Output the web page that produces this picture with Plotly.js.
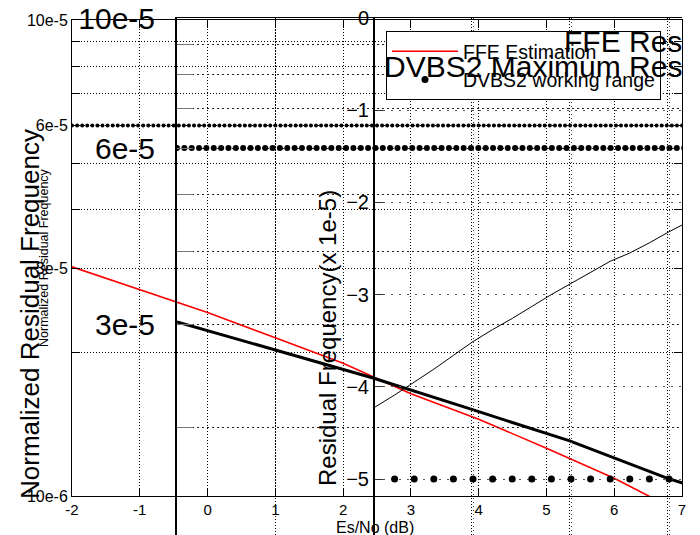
<!DOCTYPE html>
<html><head><meta charset="utf-8">
<script src="https://cdn.plot.ly/plotly-3.0.1.min.js"></script>
<style>html,body{margin:0;padding:0;background:#fff}#chart{width:700px;height:535px}</style>
</head><body><div id="chart"></div>
<script>
// FFE estimation of the normalized residual frequency vs Es/No (dB)
const ffeEsNo = [-2, -1, 0, 1, 2, 3, 4, 5, 6, 7];
const ffeResidual = [3.03e-5, 2.71e-5, 2.43e-5, 2.15e-5, 1.90e-5, 1.64e-5, 1.45e-5, 1.26e-5, 1.09e-5, 0.92e-5];

// DVBS2 maximum normalized residual frequency (constant level over the Es/No span)
const dvbs2MaxLevel = 6e-5;
const dvbs2MaxSpan = [-2, 7];
const dvbs2MaxPoints = 121;

// Residual frequency (x 1e-5) on the right-hand axes
const resEsNo = [0, 0.2, 0.4, 0.6, 0.8, 1.0, 1.2, 1.4, 1.6, 1.8, 2.0, 2.2, 2.4, 2.6, 2.8, 3.0, 3.2];
const resValue = [-4.22, -4.09, -3.95, -3.81, -3.66, -3.51, -3.38, -3.26, -3.13, -3.00, -2.88, -2.76, -2.64, -2.55, -2.44, -2.32, -2.21];

// DVBS2 working range markers
const workEsNo = [0.2, 0.4, 0.6, 0.8, 1.0, 1.2, 1.4, 1.6, 1.8, 2.0, 2.2, 2.4, 2.6, 2.8, 3.0];
const workLevel = -5;

// Tick labels
const esNoTicks = [-2, -1, 0, 1, 2, 3, 4, 5, 6, 7];
const esNoTickText = ['-2', '-1', '0', '1', '2', '3', '4', '5', '6', '7'];
const logTicks = [1e-5, 2e-5, 3e-5, 4e-5, 5e-5, 6e-5, 7e-5, 8e-5, 9e-5, 1e-4];
const smallLogText = ['10e-6', '', '3e-5', '', '', '6e-5', '', '', '', '10e-5'];
const bigLogText = ['', '', '3e-5', '', '', '6e-5', '', '', '', '10e-5'];
const resTicks = [0, -1, -2, -3, -4, -5];

const maxX = Array.from({length: dvbs2MaxPoints}, (_, i) =>
  dvbs2MaxSpan[0] + i * (dvbs2MaxSpan[1] - dvbs2MaxSpan[0]) / (dvbs2MaxPoints - 1));
const maxY = maxX.map(() => dvbs2MaxLevel);
const workY = workEsNo.map(() => workLevel);

const FONT = 'Liberation Sans, Arial, Helvetica, sans-serif';
const P = px => px / 700;
const Q = py => 1 - py / 535;

const traces = [
  {x: ffeEsNo, y: ffeResidual, xaxis: 'x', yaxis: 'y', mode: 'lines', name: 'FFE Estimation',
   line: {color: '#ff0000', width: 1.6}, legendrank: 1},
  {x: maxX, y: maxY, xaxis: 'x', yaxis: 'y', mode: 'markers', showlegend: false,
   marker: {color: '#000', size: 4}},
  {x: ffeEsNo, y: ffeResidual, xaxis: 'x2', yaxis: 'y2', mode: 'lines', showlegend: false,
   line: {color: '#000', width: 3}},
  {x: maxX, y: maxY, xaxis: 'x2', yaxis: 'y2', mode: 'markers', showlegend: false,
   marker: {color: '#000', size: 6}},
  {x: resEsNo, y: resValue, xaxis: 'x3', yaxis: 'y3', mode: 'lines', showlegend: false,
   line: {color: '#000', width: 1}},
  {x: workEsNo, y: workY, xaxis: 'x3', yaxis: 'y3', mode: 'markers', name: 'DVBS2 working range',
   marker: {color: '#000', size: 7}, legendrank: 2}
];

const ann = (text, x, y, size, extra) => Object.assign({
  text: text, xref: 'paper', yref: 'paper', x: P(x), y: Q(y), xanchor: 'center', yanchor: 'middle',
  showarrow: false, font: {size: size, family: FONT, color: '#000'}
}, extra || {});

const layout = {
  width: 700, height: 535,
  margin: {l: 0, r: 0, t: 0, b: 0},
  paper_bgcolor: '#fff', plot_bgcolor: 'rgba(0,0,0,0)',
  font: {family: FONT, color: '#000'},
  showlegend: true,
  legend: {x: P(386), y: Q(31), xanchor: 'left', yanchor: 'top', bgcolor: '#fff',
           bordercolor: '#000', borderwidth: 1, font: {size: 19.5, family: FONT}, itemwidth: 66},
  xaxis: {domain: [P(72), P(682)], range: [-2, 7], anchor: 'y', tickmode: 'array',
          tickvals: esNoTicks, ticktext: esNoTickText, ticks: 'inside', ticklen: 8, tickcolor: '#000',
          showline: true, linecolor: '#000', linewidth: 1, mirror: 'ticks',
          showgrid: true, gridcolor: '#000', griddash: '1px,2px', gridwidth: 1, zeroline: false,
          tickfont: {size: 15}},
  yaxis: {domain: [Q(496), Q(20)], type: 'log', range: [-5, -4], anchor: 'x', tickmode: 'array',
          tickvals: logTicks, ticktext: smallLogText, ticks: 'inside', ticklen: 8, tickcolor: '#000',
          showline: true, linecolor: '#000', linewidth: 1, mirror: 'ticks',
          showgrid: true, gridcolor: '#000', griddash: '1px,2px', gridwidth: 1, zeroline: false,
          tickfont: {size: 16}},
  xaxis2: {domain: [P(177), P(682)], range: [-2, -2 + 505 / 98], anchor: 'y2', side: 'top',
           showline: true, linecolor: '#000', linewidth: 1, ticks: '', showticklabels: false,
           showgrid: true, gridcolor: '#000', griddash: '1px,2px', dtick: 1, tick0: 0, zeroline: false},
  yaxis2: {domain: [0, Q(18)], type: 'log', range: [-4 - 517 / 586, -4], anchor: 'x2', tickmode: 'array',
           tickvals: logTicks, ticktext: bigLogText, ticks: 'inside', ticklen: 16, tickcolor: '#777',
           showline: true, linecolor: '#000', linewidth: 2,
           showgrid: true, gridcolor: '#222', griddash: '2px,3px', zeroline: false,
           tickfont: {size: 30}, ticklabelstandoff: 14},
  xaxis3: {domain: [P(375), P(682)], range: [0, 307 / 98], anchor: 'y3', side: 'top',
           showline: true, linecolor: '#000', linewidth: 1, ticks: '', showticklabels: false,
           showgrid: true, gridcolor: '#444', griddash: '1px,3px', dtick: 1, tick0: 0, zeroline: false},
  yaxis3: {domain: [0, Q(17.75)], range: [-517.25 / 92.25, 0], anchor: 'x3', tickmode: 'array',
           tickvals: resTicks, ticks: 'inside', ticklen: 8, tickcolor: '#333',
           showline: true, linecolor: '#000', linewidth: 2,
           showgrid: true, gridcolor: '#555', griddash: '2px,6px', zeroline: false,
           tickfont: {size: 20}},
  annotations: [
    ann('Normalized Residual Frequency', 30, 314, 26, {textangle: -90}),
    ann('Normalized Residual Frequency', 44, 258, 12.5, {textangle: -90}),
    ann('Es/No (dB)', 375, 527, 16),
    ann('Residual Frequency(x 1e-5)', 327, 338, 24, {textangle: -90}),
    ann('FFE Res', 684, 41, 30, {xanchor: 'right'}),
    ann('DVBS2 Maximum Res', 684, 67, 30, {xanchor: 'right'})
  ]
};

Plotly.newPlot('chart', traces, layout, {staticPlot: true, displayModeBar: false});
</script>
</body></html>
